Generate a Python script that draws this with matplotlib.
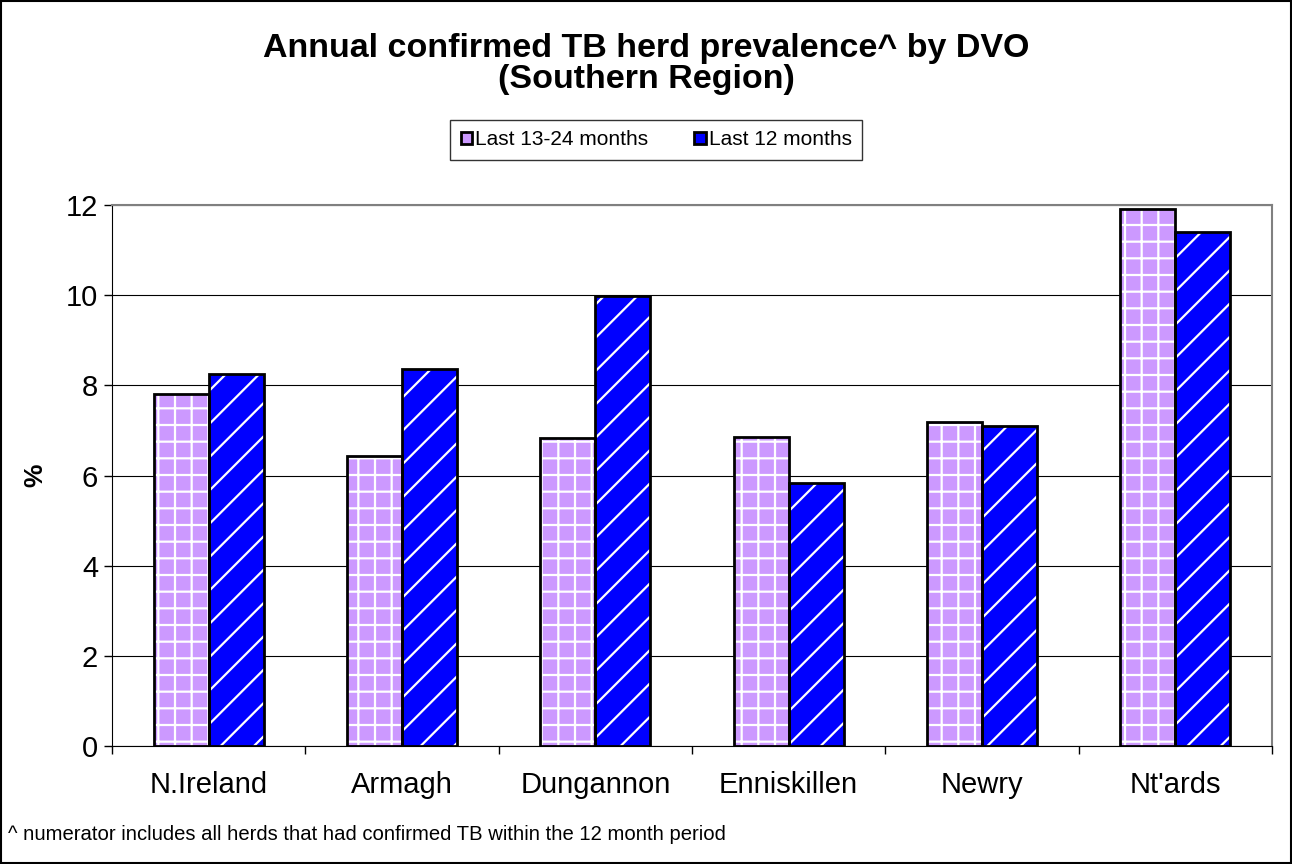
import numpy as np
import matplotlib
matplotlib.use("Agg")
import matplotlib.pyplot as plt
from matplotlib.patches import Rectangle

plt.rcParams['font.family'] = ['Liberation Sans', 'DejaVu Sans']
plt.rcParams['hatch.linewidth'] = 1.6

categories = ["N.Ireland", "Armagh", "Dungannon", "Enniskillen", "Newry", "Nt'ards"]
prev_year = [7.81, 6.43, 6.83, 6.85, 7.19, 11.91]
last_year = [8.25, 8.36, 9.98, 5.83, 7.10, 11.40]
series_names = ["Last 13-24 months", "Last 12 months"]
yticks = [0, 2, 4, 6, 8, 10, 12]

fig = plt.figure(figsize=(12.92, 8.64), dpi=100)
ax = fig.add_axes([0.0867, 0.1366, 0.8978, 0.6261])

x = np.arange(len(categories))
w = 0.285
colors = ["#CC99FF", "#0000FF"]
hatches = ["+", "/"]

for i, (vals, c, h) in enumerate(zip([prev_year, last_year], colors, hatches)):
    pos = x - w / 2 + i * w
    # fill with white hatch, then a black outline on top
    ax.bar(pos, vals, w, color=c, edgecolor="white", hatch=h, linewidth=0, zorder=3)
    ax.bar(pos, vals, w, fill=False, edgecolor="black", linewidth=2, zorder=4)

ax.set_xlim(-0.5, len(categories) - 0.5)
ax.set_ylim(0, 12)
ax.set_yticks(yticks)
ax.set_xticks(x)
ax.set_xticklabels(categories)
ax.set_xticks(np.arange(len(categories) + 1) - 0.5, minor=True)
ax.tick_params(axis="x", which="major", length=0, pad=18, labelsize=21)
ax.tick_params(axis="x", which="minor", length=6, width=1)
ax.tick_params(axis="y", length=6, width=1, labelsize=21, pad=4)
ax.yaxis.grid(True, color="black", linewidth=0.8, zorder=0)
ax.set_axisbelow(True)
for s in ["top", "right"]:
    ax.spines[s].set_color("#808080")
    ax.spines[s].set_linewidth(1.5)
ax.spines["left"].set_color("black")
ax.spines["bottom"].set_color("black")
ax.set_ylabel("%", fontsize=19, fontweight="bold", labelpad=13)

fig.text(0.5, 0.926, "Annual confirmed TB herd prevalence^ by DVO\n(Southern Region)",
         ha="center", va="center", fontsize=24.5, fontweight="bold", linespacing=1.0)

handles = [Rectangle((0, 0), 1, 1, facecolor=c, edgecolor="black", linewidth=2) for c in colors]
leg = fig.legend(handles, series_names, loc="center", bbox_to_anchor=(0.508, 0.838),
                 ncol=2, fontsize=15, frameon=True, fancybox=False, edgecolor="black",
                 handlelength=0.55, handleheight=0.55, handletextpad=0.15, columnspacing=2.2,
                 borderpad=0.5)
leg.get_frame().set_linewidth(1)

fig.text(0.006, 0.034, "^ numerator includes all herds that had confirmed TB within the 12 month period",
         fontsize=14.6, ha="left", va="center")

fig.patches.append(Rectangle((0.001, 0.001), 0.998, 0.998, transform=fig.transFigure,
                             fill=False, edgecolor="black", linewidth=1.5))

fig.savefig("out.png", dpi=100)
